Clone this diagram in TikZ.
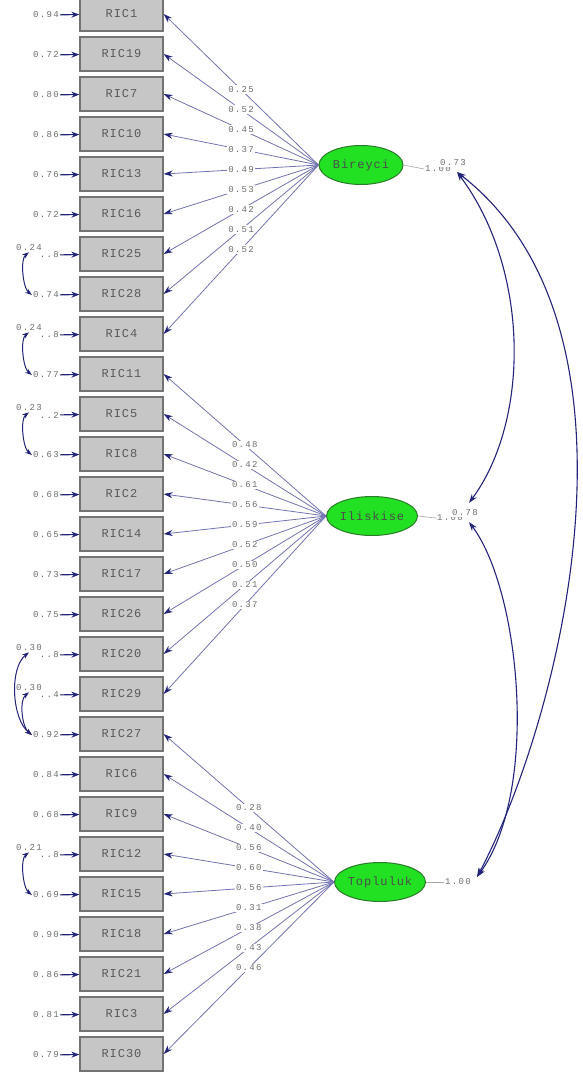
\documentclass[tikz,border=0pt]{standalone}
\usepackage{fontspec}
\newfontfamily\boxfont[LetterSpace=8]{Liberation Mono}
\newfontfamily\valfont[LetterSpace=15]{Liberation Mono}
\usepackage{tikz}
\usetikzlibrary{shapes.geometric, arrows.meta, positioning}
\tikzset{>=stealth}
\definecolor{mynavy}{HTML}{23237A}
\definecolor{myline}{HTML}{7272B0}
\definecolor{mygreen}{HTML}{22E022}
\definecolor{mydkgreen}{HTML}{2A7A2A}
\definecolor{mygray}{HTML}{C6C6C6}
\definecolor{mytext}{HTML}{6E6E6E}
\tikzset{
  obs/.style={draw=black!55, line width=1.3pt, fill=mygray, minimum width=83pt, minimum height=34pt, inner sep=0pt, font=\boxfont\fontsize{12}{13}\selectfont, text=black!65},
  lat/.style={ellipse, draw=mydkgreen, line width=1pt, fill=mygreen, minimum width=84pt, minimum height=39pt, inner sep=0pt, font=\boxfont\fontsize{12}{13}\selectfont, text=black!70},
  lbl/.style={font=\valfont\fontsize{9}{10}\selectfont, text=mytext, inner sep=1pt},
  load/.style={myline, line width=0.8pt, -{Stealth[length=9pt, width=6pt, color=mynavy]}},
  err/.style={mynavy, line width=1.1pt, -{Stealth[length=8pt, width=6pt]}},
  cov/.style={mynavy, line width=1pt, {Stealth[length=7pt, width=5pt]}-{Stealth[length=7pt, width=5pt]}},
  latcov/.style={mynavy, line width=1.1pt, {Stealth[length=9pt, width=6pt]}-{Stealth[length=9pt, width=6pt]}},
  varline/.style={black!35, line width=0.6pt}
}
\begin{document}
\begin{tikzpicture}[x=1pt, y=-1pt]
\useasboundingbox (0,0) rectangle (582,1081);
\foreach \lab/\ev [count=\i from 0] in {RIC1/0.94, RIC19/0.72, RIC7/0.80, RIC10/0.86, RIC13/0.76, RIC16/0.72, RIC25/..8, RIC28/0.74, RIC4/..8, RIC11/0.77, RIC5/..2, RIC8/0.63, RIC2/0.68, RIC14/0.65, RIC17/0.73, RIC26/0.75, RIC20/..8, RIC29/..4, RIC27/0.92, RIC6/0.84, RIC9/0.68, RIC12/..8, RIC15/0.69, RIC18/0.90, RIC21/0.86, RIC3/0.81, RIC30/0.79}{
  \node[obs] (b\i) at (121.5,{14+40*\i}) {\lab};
  \node[lbl, anchor=east] (e\i) at (60,{15+40*\i}) {\ev};
  \draw[err] (e\i) -- (b\i);
}
\node[lat] (bir) at (361,165) {Bireyci};
\node[lat] (ili) at (372,516) {Iliskise};
\node[lat] (topl) at (380,882) {Topluluk};
\foreach \j/\v in {0/0.25, 1/0.52, 2/0.45, 3/0.37, 4/0.49, 5/0.53, 6/0.42, 7/0.51, 8/0.52}
  \draw[load] (bir.west) -- node[lbl, fill=white] {\v} (b\j.east);
\foreach \j/\v in {9/0.48, 10/0.42, 11/0.61, 12/0.56, 13/0.59, 14/0.52, 15/0.50, 16/0.21, 17/0.37}
  \draw[load] (ili.west) -- node[lbl, fill=white] {\v} (b\j.east);
\foreach \j/\v in {18/0.28, 19/0.40, 20/0.56, 21/0.60, 22/0.56, 23/0.31, 24/0.38, 25/0.43, 26/0.46}
  \draw[load] (topl.west) -- node[lbl, fill=white] {\v} (b\j.east);
\node[lbl, fill=white] (k6) at (29,248) {0.24};
\node[lbl, fill=white] (k8) at (29,328) {0.24};
\node[lbl, fill=white] (k10) at (29,408) {0.23};
\node[lbl, fill=white] (k16) at (29,648) {0.30};
\node[lbl, fill=white] (k17) at (29,688) {0.30};
\node[lbl, fill=white] (k21) at (29,848) {0.21};
\draw[cov] (k6.south) .. controls +(-9,7) and +(-9,-7) .. (e7.west);
\draw[cov] (k8.south) .. controls +(-9,7) and +(-9,-7) .. (e9.west);
\draw[cov] (k10.south) .. controls +(-9,7) and +(-9,-7) .. (e11.west);
\draw[cov] (k16.south) .. controls +(-20,16) and +(-20,-16) .. (e18.west);
\draw[cov] (k17.south) .. controls +(-10,8) and +(-10,-8) .. (e18.west);
\draw[cov] (k21.south) .. controls +(-9,7) and +(-9,-7) .. (e22.west);
\node[lbl, anchor=west] (bv) at (424,169) {1.00};
\node[lbl, anchor=west] (iv) at (436,518) {1.00};
\node[lbl, anchor=west] (tv) at (444,882) {1.00};
\draw[varline] (bir.east) -- (bv.west);
\draw[varline] (ili.east) -- (iv.west);
\draw[varline] (topl.east) -- (tv.west);
\node[lbl, fill=white] (bc) at (453,163) {0.73};
\node[lbl, fill=white] (ic) at (465,513) {0.78};
\coordinate (cb) at (457,172);
\coordinate (ci1) at (469,503);
\coordinate (ci2) at (469,522);
\coordinate (ct) at (477,877);
\draw[latcov] (cb) .. controls (530,270) and (530,420) .. (ci1);
\draw[latcov] (cb) .. controls (660,330) and (560,720) .. (ct);
\draw[latcov] (ci2) .. controls (520,590) and (540,790) .. (ct);
\end{tikzpicture}
\end{document}
